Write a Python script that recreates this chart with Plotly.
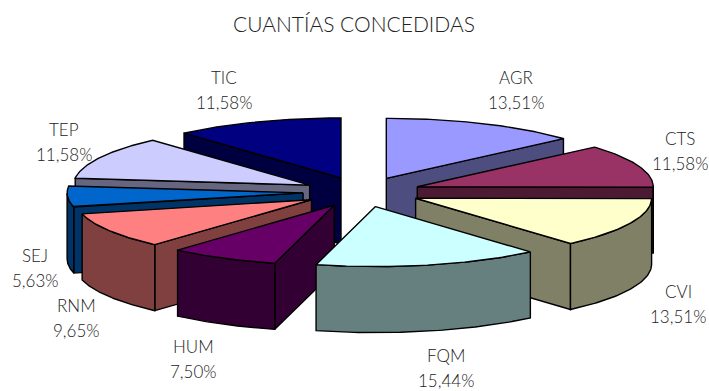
import numpy as np
import plotly.graph_objects as go

title = 'CUANTÍAS CONCEDIDAS'
categories = ['AGR', 'CTS', 'CVI', 'FQM', 'HUM', 'RNM', 'SEJ', 'TEP', 'TIC']
percents = [13.51, 11.58, 13.51, 15.44, 7.50, 9.65, 5.63, 11.58, 11.58]
top_colors = ['#9999FF', '#993366', '#FFFFCC', '#CCFFFF', '#660066', '#FF8080', '#0066CC', '#CCCCFF', '#000080']
side_colors = ['#4D4D80', '#4D1A33', '#808066', '#668080', '#330033', '#804040', '#003366', '#666680', '#000040']

# pie geometry, in page pixels
cx, cy = 362, 192
rx, ry = 236, 60
depth = 66
explode = 0.25
label_xy = [(516, 77), (680, 138), (678, 291), (446, 355), (193, 346),
            (76, 305), (35, 255), (64, 129), (224, 77)]
label_gap = 25
font = 'Lato'


def rim(apex, a0, a1, n=60):
    ang = np.linspace(a0, a1, n)
    return apex[0] + rx * np.sin(ang), apex[1] - ry * np.cos(ang)


def polygon(xs, ys, color):
    return go.Scatter(x=list(xs) + [xs[0]], y=list(ys) + [ys[0]], mode='lines', fill='toself',
                      fillcolor=color, line=dict(color='black', width=1.4),
                      hoverinfo='skip', showlegend=False)


def radial_wall(apex, a, color):
    ex, ey = rim(apex, a, a, 1)
    return polygon([apex[0], ex[0], ex[0], apex[0]],
                   [apex[1], ey[0], ey[0] + depth, apex[1] + depth], color)


def slice_traces(apex, a0, a1, top, side):
    traces = []
    # radial walls only where they face the viewer
    if np.sin(a0) < -1e-6:
        traces.append(radial_wall(apex, a0, side))
    if np.sin(a1) > 1e-6:
        traces.append(radial_wall(apex, a1, side))
    # the outer wall only shows on the front half of the ellipse
    w0, w1 = max(a0, np.pi / 2), min(a1, 3 * np.pi / 2)
    if w1 > w0:
        wx, wy = rim(apex, w0, w1)
        traces.append(polygon(np.r_[wx, wx[::-1]], np.r_[wy, wy[::-1] + depth], side))
    tx, ty = rim(apex, a0, a1)
    traces.append(polygon(np.r_[apex[0], tx], np.r_[apex[1], ty], top))
    return traces


fractions = np.array(percents) / sum(percents)
ends = np.cumsum(fractions) * 2 * np.pi
starts = ends - fractions * 2 * np.pi
mids = (starts + ends) / 2

fig = go.Figure()
# back slices first so the front ones cover them
for i in np.argsort(-np.cos(mids)):
    apex = (cx + explode * rx * np.sin(mids[i]), cy - explode * ry * np.cos(mids[i]))
    fig.add_traces(slice_traces(apex, starts[i], ends[i], top_colors[i], side_colors[i]))

for name, pct, (x, y) in zip(categories, percents, label_xy):
    pct_text = '{:.2f}%'.format(pct).replace('.', ',')
    for text, ty in ((name, y), (pct_text, y + label_gap)):
        fig.add_annotation(x=x, y=ty, text=text, showarrow=False, xanchor='center', yanchor='middle',
                           font=dict(family=font, size=17, color='#222222', weight=300))

fig.add_annotation(x=354, y=23, text=title, showarrow=False, xanchor='center', yanchor='middle',
                   font=dict(family=font, size=21, color='#222222', weight=300))

fig.update_xaxes(range=[0, 709], visible=False)
fig.update_yaxes(range=[391, 0], visible=False)
fig.update_layout(width=709, height=391, margin=dict(l=0, r=0, t=0, b=0),
                  plot_bgcolor='white', paper_bgcolor='white', showlegend=False)
# the page's default body margin would push the chart 8px in
fig.write_html('out.html', config=dict(displayModeBar=False),
               post_script="document.body.style.margin='0';")
